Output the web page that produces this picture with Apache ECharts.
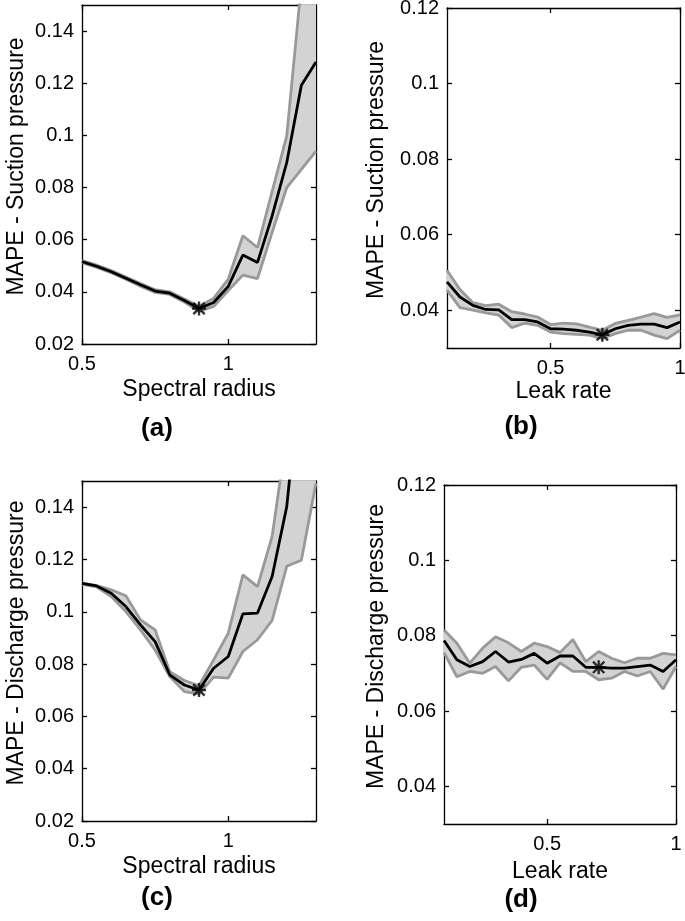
<!DOCTYPE html>
<html>
<head>
<meta charset="utf-8">
<script src="https://cdn.jsdelivr.net/npm/echarts@6/dist/echarts.min.js"></script>
<style>
html,body{margin:0;padding:0;background:#fff;}
#chart{width:685px;height:921px;}
</style>
</head>
<body>
<div id="chart"></div>
<script>
// ---------------- DATA ----------------
const xSpectral = [0.5, 0.55, 0.6, 0.65, 0.7, 0.75, 0.8, 0.85, 0.9, 0.95, 1.0, 1.05, 1.1, 1.15, 1.2, 1.25, 1.3];
const xLeak = [0.1, 0.15, 0.2, 0.25, 0.3, 0.35, 0.4, 0.45, 0.5, 0.55, 0.6, 0.65, 0.7, 0.75, 0.8, 0.85, 0.9, 0.95, 1.0];

// (a) Suction pressure vs spectral radius
const meanA  = [0.0516, 0.0498, 0.0477, 0.0452, 0.0427, 0.0403, 0.0395, 0.0367, 0.0336, 0.0359, 0.0421, 0.0541, 0.0513, 0.0691, 0.0896, 0.1192, 0.1281];
const upperA = [0.0520, 0.0503, 0.0482, 0.0457, 0.0432, 0.0408, 0.0400, 0.0373, 0.0345, 0.0375, 0.0449, 0.0615, 0.0570, 0.0785, 0.0998, 0.1580, 0.1900];
const lowerA = [0.0512, 0.0494, 0.0473, 0.0448, 0.0422, 0.0398, 0.0390, 0.0361, 0.0325, 0.0344, 0.0405, 0.0464, 0.0451, 0.0628, 0.0800, 0.0870, 0.0940];
const bestA = 0.9;

// (b) Suction pressure vs leak rate
const meanB  = [0.0475, 0.0435, 0.0413, 0.0402, 0.0401, 0.0375, 0.0375, 0.0369, 0.0351, 0.0350, 0.0347, 0.0342, 0.0335, 0.0351, 0.0360, 0.0363, 0.0363, 0.0354, 0.0369];
const upperB = [0.0506, 0.0455, 0.0420, 0.0412, 0.0416, 0.0396, 0.0390, 0.0382, 0.0362, 0.0366, 0.0364, 0.0355, 0.0347, 0.0365, 0.0373, 0.0382, 0.0391, 0.0381, 0.0388];
const lowerB = [0.0453, 0.0407, 0.0400, 0.0393, 0.0387, 0.0354, 0.0366, 0.0360, 0.0342, 0.0338, 0.0336, 0.0334, 0.0325, 0.0338, 0.0347, 0.0347, 0.0334, 0.0325, 0.0347];
const bestB = 0.7;

// (c) Discharge pressure vs spectral radius
const meanC  = [0.1109, 0.1099, 0.1071, 0.1020, 0.0950, 0.0886, 0.0759, 0.0720, 0.0701, 0.0784, 0.0829, 0.0992, 0.0995, 0.1135, 0.1402, 0.1950, 0.2300];
const upperC = [0.1110, 0.1100, 0.1084, 0.1061, 0.0969, 0.0931, 0.0771, 0.0737, 0.0717, 0.0816, 0.0918, 0.1141, 0.1096, 0.1288, 0.1680, 0.2200, 0.2600];
const lowerC = [0.1105, 0.1095, 0.1058, 0.1001, 0.0931, 0.0854, 0.0752, 0.0695, 0.0686, 0.0750, 0.0746, 0.0848, 0.0893, 0.0967, 0.1174, 0.1197, 0.1492];
const bestC = 0.9;

// (d) Discharge pressure vs leak rate
const meanD  = [0.0787, 0.0736, 0.0718, 0.0731, 0.0758, 0.0730, 0.0737, 0.0753, 0.0727, 0.0746, 0.0746, 0.0716, 0.0716, 0.0714, 0.0714, 0.0718, 0.0722, 0.0705, 0.0736];
const upperD = [0.0815, 0.0780, 0.0727, 0.0767, 0.0797, 0.0781, 0.0758, 0.0780, 0.0771, 0.0755, 0.0790, 0.0731, 0.0758, 0.0740, 0.0728, 0.0740, 0.0740, 0.0753, 0.0749];
const lowerD = [0.0755, 0.0691, 0.0705, 0.0700, 0.0718, 0.0680, 0.0716, 0.0722, 0.0684, 0.0728, 0.0705, 0.0705, 0.0683, 0.0687, 0.0705, 0.0693, 0.0705, 0.0658, 0.0718];
const bestD = 0.7;

// tick labels
const xTicksSpectral = [0.5, 1];
const xTicksLeak = [0.5, 1];
const yTicksWide = [0.02, 0.04, 0.06, 0.08, 0.1, 0.12, 0.14];
const yTicksNarrow = [0.04, 0.06, 0.08, 0.1, 0.12];

const xNames = ['Spectral radius', 'Leak rate', 'Spectral radius', 'Leak rate'];
const yNames = ['MAPE - Suction pressure', 'MAPE - Suction pressure', 'MAPE - Discharge pressure', 'MAPE - Discharge pressure'];
const panelLabels = ['(a)', '(b)', '(c)', '(d)'];

// ---------------- LAYOUT / STYLE ----------------
const FONT = 'Liberation Sans, Arial, Helvetica, sans-serif';
const panels = [
  {x: xSpectral, mean: meanA, lower: lowerA, upper: upperA, best: bestA, xr: [0.5, 1.3], yr: [0.02, 0.15], xt: xTicksSpectral, yt: yTicksWide,
   grid: {left: 82, top: 5, width: 234, height: 339}, xGap: 34, yGap: 54, lab: [157, 429]},
  {x: xLeak, mean: meanB, lower: lowerB, upper: upperB, best: bestB, xr: [0.1, 1.0], yr: [0.03, 0.12], xt: xTicksLeak, yt: yTicksNarrow,
   grid: {left: 447, top: 8, width: 233, height: 340}, xGap: 32, yGap: 59, lab: [521, 427]},
  {x: xSpectral, mean: meanC, lower: lowerC, upper: upperC, best: bestC, xr: [0.5, 1.3], yr: [0.02, 0.15], xt: xTicksSpectral, yt: yTicksWide,
   grid: {left: 82, top: 481, width: 234, height: 340}, xGap: 34, yGap: 54, lab: [157, 898]},
  {x: xLeak, mean: meanD, lower: lowerD, upper: upperD, best: bestD, xr: [0.1, 1.0], yr: [0.03, 0.12], xt: xTicksLeak, yt: yTicksNarrow,
   grid: {left: 444, top: 485, width: 232, height: 339}, xGap: 36, yGap: 56, lab: [521, 900]}
];

const FILL = '#d3d3d3';
const EDGE = '#999999';
const fmt = v => String(+(+v).toFixed(4));
const asterisk = 'path://M0,8.3L20,8.3L20,11.7L0,11.7Z M8.3,0L11.7,0L11.7,20L8.3,20Z M3.1,0.7L19.3,16.9L16.9,19.3L0.7,3.1Z M16.9,0.7L19.3,3.1L3.1,19.3L0.7,16.9Z';

const grids = [], xAxes = [], yAxes = [], series = [], graphics = [];
const axisLineStyle = {color: '#000', width: 1.3};

panels.forEach((p, i) => {
  grids.push(Object.assign({outerBoundsMode: 'none', containLabel: false}, p.grid));
  xAxes.push({
    type: 'value', gridIndex: i, position: 'bottom', min: p.xr[0], max: p.xr[1],
    axisLine: {show: true, onZero: false, lineStyle: axisLineStyle},
    axisTick: {show: true, inside: true, length: 5, customValues: p.xt, lineStyle: axisLineStyle},
    axisLabel: {show: true, customValues: p.xt, formatter: fmt, fontSize: 20, color: '#000', fontFamily: FONT, margin: 10},
    splitLine: {show: false},
    name: xNames[i], nameLocation: 'middle', nameGap: p.xGap,
    nameTextStyle: {fontSize: 23, color: '#000', fontFamily: FONT}
  });
  yAxes.push({
    type: 'value', gridIndex: i, position: 'left', min: p.yr[0], max: p.yr[1],
    axisLine: {show: true, onZero: false, lineStyle: axisLineStyle},
    axisTick: {show: true, inside: true, length: 5, customValues: p.yt, lineStyle: axisLineStyle},
    axisLabel: {show: true, customValues: p.yt, formatter: fmt, fontSize: 20, color: '#000', fontFamily: FONT, margin: 8},
    splitLine: {show: false},
    name: yNames[i], nameLocation: 'middle', nameRotate: 90, nameGap: p.yGap,
    nameTextStyle: {fontSize: 23, color: '#000', fontFamily: FONT, padding: [0, 0, 0, 16]}
  });
});
panels.forEach((p, i) => {
  xAxes.push({
    type: 'value', gridIndex: i, position: 'top', min: p.xr[0], max: p.xr[1],
    axisLine: {show: true, onZero: false, lineStyle: axisLineStyle},
    axisTick: {show: true, inside: true, length: 5, customValues: p.xt, lineStyle: axisLineStyle},
    axisLabel: {show: false}, splitLine: {show: false}
  });
  yAxes.push({
    type: 'value', gridIndex: i, position: 'right', min: p.yr[0], max: p.yr[1],
    axisLine: {show: true, onZero: false, lineStyle: axisLineStyle},
    axisTick: {show: true, inside: true, length: 5, customValues: p.yt, lineStyle: axisLineStyle},
    axisLabel: {show: false}, splitLine: {show: false}
  });
});

panels.forEach((p, i) => {
  // band fill: one quad per segment, placed through the axes' scales
  const bandData = p.x.map((x, k) => [x, p.lower[k], p.upper[k],
    k + 1 < p.x.length ? p.x[k + 1] : x,
    k + 1 < p.x.length ? p.lower[k + 1] : p.lower[k],
    k + 1 < p.x.length ? p.upper[k + 1] : p.upper[k]]);
  series.push({
    type: 'custom', xAxisIndex: i, yAxisIndex: i, z: 1, clip: true, silent: true,
    data: bandData.slice(0, -1),
    encode: {x: [0, 3], y: [1, 2, 4, 5]},
    renderItem: function (params, api) {
      const a = api.coord([api.value(0), api.value(1)]);
      const b = api.coord([api.value(3), api.value(4)]);
      const c = api.coord([api.value(3), api.value(5)]);
      const d = api.coord([api.value(0), api.value(2)]);
      return {
        type: 'polygon',
        shape: {points: [a, b, c, d]},
        style: {fill: FILL, stroke: FILL, lineWidth: 0.8}
      };
    }
  });
  series.push({
    type: 'line', xAxisIndex: i, yAxisIndex: i, z: 3,
    data: p.x.map((x, k) => [x, p.lower[k]]),
    showSymbol: false, symbol: 'none', clip: true,
    lineStyle: {color: EDGE, width: 2.8}, silent: true
  });
  series.push({
    type: 'line', xAxisIndex: i, yAxisIndex: i, z: 3,
    data: p.x.map((x, k) => [x, p.upper[k]]),
    showSymbol: false, symbol: 'none', clip: true,
    lineStyle: {color: EDGE, width: 2.8}, silent: true
  });
  series.push({
    type: 'line', xAxisIndex: i, yAxisIndex: i, z: 4,
    data: p.x.map((x, k) => [x, p.mean[k]]),
    showSymbol: false, symbol: 'none', clip: true,
    lineStyle: {color: '#000', width: 2.8}, silent: true
  });
  const bi = p.x.indexOf(p.best);
  series.push({
    type: 'scatter', xAxisIndex: i, yAxisIndex: i, z: 5,
    data: [[p.x[bi], p.mean[bi]]],
    symbol: asterisk, symbolSize: 14, itemStyle: {color: '#000'}, silent: true
  });
  graphics.push({
    type: 'text', x: p.lab[0], y: p.lab[1],
    style: {text: panelLabels[i], font: 'bold 26px ' + FONT, fill: '#000', align: 'center', verticalAlign: 'middle'}
  });
});

const chart = echarts.init(document.getElementById('chart'), null, {renderer: 'canvas', width: 685, height: 921});
chart.setOption({
  animation: false,
  backgroundColor: '#fff',
  grid: grids,
  xAxis: xAxes,
  yAxis: yAxes,
  series: series,
  graphic: graphics
});
</script>
</body>
</html>
